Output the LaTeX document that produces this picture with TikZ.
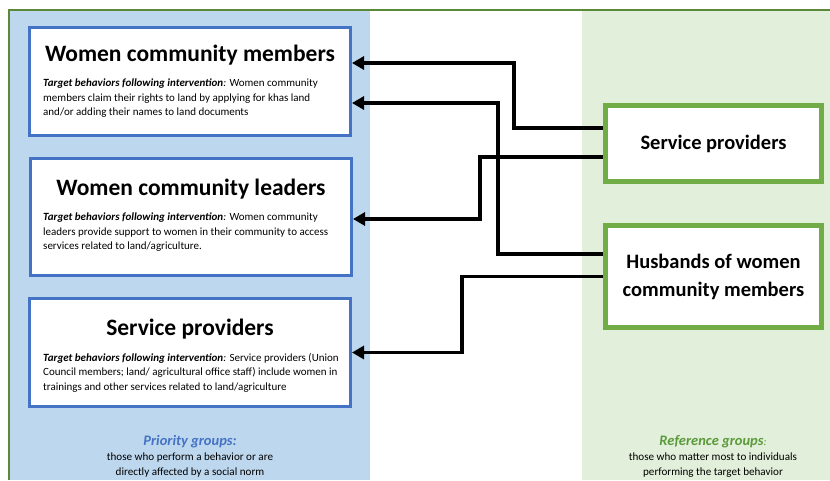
\documentclass[tikz,border=0pt]{standalone}
\usepackage{fontspec}
\setmainfont{Carlito}
\usetikzlibrary{positioning,arrows.meta,calc}

\definecolor{panelblue}{HTML}{BDD7EE}
\definecolor{panelgreen}{HTML}{E2EFDA}
\definecolor{boxblue}{HTML}{4472C4}
\definecolor{boxgreen}{HTML}{70AD47}
\definecolor{headgreen}{HTML}{5B9A3A}

\begin{document}
\begin{tikzpicture}[x=1pt, y=-1pt,
      prio/.style={rectangle, draw=boxblue, line width=3pt, fill=white, minimum width=321pt},
      refr/.style={rectangle, draw=boxgreen, line width=5pt, fill=white, minimum width=216pt, align=center, font=\fontsize{20.5}{28}\selectfont\bfseries},
      ptitle/.style={font=\fontsize{23.5}{26}\selectfont\bfseries, inner sep=0pt, anchor=base},
      pbody/.style={font=\fontsize{11}{14.5}\selectfont, align=left, anchor=north west, inner sep=0pt},
      gnote/.style={align=center, font=\fontsize{11.1}{15}\selectfont, inner sep=0pt},
      conn/.style={line width=3.5pt, -{Triangle[length=12pt,width=13pt]}},
      ]
      \useasboundingbox (0,0) rectangle (830,480);
      % panels and frame
      \fill[panelblue] (10,10) rectangle (370,480);
      \fill[panelgreen] (582,10) rectangle (830,480);
      \draw[boxgreen!80!black, line width=1.5pt] (9,480) -- (9,10) -- (830,10);

      % priority groups
      \node[prio, minimum height=108pt] (wcm) at (190,81.5) {};
      \node[prio, minimum height=117pt] (wcl) at (191,217) {};
      \node[prio, minimum height=108pt] (spp) at (190,352.5) {};

      \node[ptitle] (wcmt) at ([yshift=-35pt]wcm.north) {Women community members};
      \node[pbody] (wcmb) at (43,79) {\textbf{\textit{Target behaviors following intervention}}\textit{:} Women community\\members claim their rights to land by applying for khas land\\and/or adding their names to land documents};

      \node[ptitle] (wclt) at ([yshift=-38pt]wcl.north) {Women community leaders};
      \node[pbody] (wclb) at (43,213) {\textbf{\textit{Target behaviors following intervention}}\textit{:} Women community\\leaders provide support to women in their community to access\\services related to land/agriculture.};

      \node[ptitle] (sppt) at ([yshift=-38pt]spp.north) {Service providers};
      \node[pbody] (sppb) at (43,353) {\textbf{\textit{Target behaviors following intervention}}\textit{:} Service providers (Union\\Council members; land/ agricultural office staff) include women in\\trainings and other services related to land/agriculture};

      % reference groups
      \node[refr, minimum height=76pt] (srp) at (713.5,143.5) {Service providers};
      \node[refr, minimum height=102pt] (hus) at (713.5,276.5) {Husbands of women\\community members};

      % connectors
      \draw[conn] ([yshift=15.5pt]srp.west) -- ++(-89,0) |- ([yshift=18.5pt]wcm.east);
      \draw[conn] ([yshift=-13.5pt]srp.west) -- ++(-123,0) |- ([yshift=-2pt]wcl.east);
      \draw[conn] ([yshift=22.5pt]hus.west) -- ++(-105,0) |- ([yshift=-21.5pt]wcm.east);
      \draw[conn] (hus.west) -- ++(-141,0) |- (spp.east);

      % group notes
      \node[gnote] (prionote) at (190,456) {{\fontsize{14.5}{16}\selectfont\bfseries\itshape\color{boxblue}Priority groups:}\\those who perform a behavior or are\\directly affected by a social norm};
      \node[gnote] (refnote) at (713,456) {{\fontsize{14.5}{16}\selectfont\bfseries\itshape\color{headgreen}Reference groups}{\itshape\color{headgreen}:}\\those who matter most to individuals\\performing the target behavior};
    \end{tikzpicture}
\end{document}
